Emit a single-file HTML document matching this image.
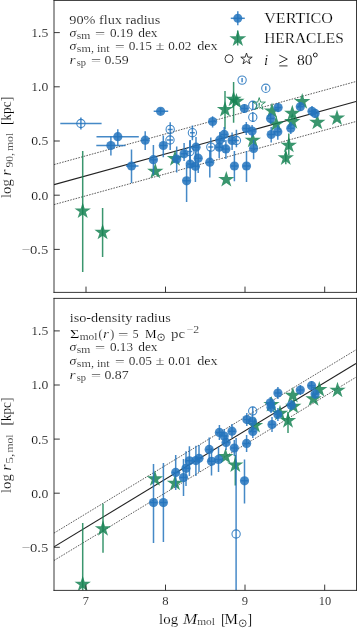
<!DOCTYPE html>
<html><head><meta charset="utf-8"><style>
html,body{margin:0;padding:0;background:#fff;width:357px;height:628px;overflow:hidden}
svg{display:block;will-change:transform}
text{font-family:"Liberation Serif",serif;fill:#000;stroke:#fff;stroke-width:0.18px;paint-order:fill}
.tk{font-size:13.2px}
.an{font-size:12.6px}
.lg{font-size:13.4px}
.it{font-style:italic}
.sb{font-size:9.2px}
</style></head><body>
<svg width="357" height="628" viewBox="0 0 357 628"><defs><clipPath id="c1"><rect x="54" y="0.4" width="302.1" height="291.9"/></clipPath><clipPath id="c2"><rect x="54" y="298.4" width="302.1" height="291.9"/></clipPath></defs>
<g clip-path="url(#c1)">
<line x1="54" y1="184.60" x2="356" y2="101.50" stroke="#222" stroke-width="1.1"/>
<line x1="54" y1="164.60" x2="356" y2="81.50" stroke="#333" stroke-width="0.8" stroke-dasharray="1.6 1.2"/>
<line x1="54" y1="204.60" x2="356" y2="121.50" stroke="#333" stroke-width="0.8" stroke-dasharray="1.6 1.2"/>
</g>
<g clip-path="url(#c1)" stroke="#188455" stroke-opacity="0.85" stroke-width="1.50"><line x1="82.70" y1="151.00" x2="82.70" y2="272.00"/><line x1="102.60" y1="208.00" x2="102.60" y2="257.00"/><line x1="233.60" y1="82.00" x2="233.60" y2="122.70"/><line x1="225.00" y1="91.00" x2="225.00" y2="129.40"/><line x1="288.80" y1="133.40" x2="288.80" y2="155.10"/><line x1="285.80" y1="151.60" x2="285.80" y2="164.20"/></g>
<g clip-path="url(#c1)" fill="#188455" fill-opacity="0.85"><path d="M82.70,202.50 L80.77,208.44 L74.52,208.44 L79.58,212.12 L77.65,218.06 L82.70,214.38 L87.75,218.06 L85.82,212.12 L90.88,208.44 L84.63,208.44 Z"/><path d="M102.60,223.80 L100.67,229.74 L94.42,229.74 L99.48,233.42 L97.55,239.36 L102.60,235.68 L107.65,239.36 L105.72,233.42 L110.78,229.74 L104.53,229.74 Z"/><path d="M155.30,162.80 L153.37,168.74 L147.12,168.74 L152.18,172.42 L150.25,178.36 L155.30,174.68 L160.35,178.36 L158.42,172.42 L163.48,168.74 L157.23,168.74 Z"/><path d="M175.00,150.10 L173.07,156.04 L166.82,156.04 L171.88,159.72 L169.95,165.66 L175.00,161.98 L180.05,165.66 L178.12,159.72 L183.18,156.04 L176.93,156.04 Z"/><path d="M233.60,90.70 L231.67,96.64 L225.42,96.64 L230.48,100.32 L228.55,106.26 L233.60,102.58 L238.65,106.26 L236.72,100.32 L241.78,96.64 L235.53,96.64 Z"/><path d="M236.40,92.90 L234.47,98.84 L228.22,98.84 L233.28,102.52 L231.35,108.46 L236.40,104.78 L241.45,108.46 L239.52,102.52 L244.58,98.84 L238.33,98.84 Z"/><path d="M225.00,101.00 L223.07,106.94 L216.82,106.94 L221.88,110.62 L219.95,116.56 L225.00,112.88 L230.05,116.56 L228.12,110.62 L233.18,106.94 L226.93,106.94 Z"/><path d="M252.80,131.70 L250.87,137.64 L244.62,137.64 L249.68,141.32 L247.75,147.26 L252.80,143.58 L257.85,147.26 L255.92,141.32 L260.98,137.64 L254.73,137.64 Z"/><path d="M226.30,171.00 L224.37,176.94 L218.12,176.94 L223.18,180.62 L221.25,186.56 L226.30,182.88 L231.35,186.56 L229.42,180.62 L234.48,176.94 L228.23,176.94 Z"/><path d="M272.00,102.50 L270.07,108.44 L263.82,108.44 L268.88,112.12 L266.95,118.06 L272.00,114.38 L277.05,118.06 L275.12,112.12 L280.18,108.44 L273.93,108.44 Z"/><path d="M276.20,115.50 L274.27,121.44 L268.02,121.44 L273.08,125.12 L271.15,131.06 L276.20,127.38 L281.25,131.06 L279.32,125.12 L284.38,121.44 L278.13,121.44 Z"/><path d="M292.30,104.80 L290.37,110.74 L284.12,110.74 L289.18,114.42 L287.25,120.36 L292.30,116.68 L297.35,120.36 L295.42,114.42 L300.48,110.74 L294.23,110.74 Z"/><path d="M292.30,113.10 L290.37,119.04 L284.12,119.04 L289.18,122.72 L287.25,128.66 L292.30,124.98 L297.35,128.66 L295.42,122.72 L300.48,119.04 L294.23,119.04 Z"/><path d="M302.20,93.10 L300.27,99.04 L294.02,99.04 L299.08,102.72 L297.15,108.66 L302.20,104.98 L307.25,108.66 L305.32,102.72 L310.38,99.04 L304.13,99.04 Z"/><path d="M317.30,113.80 L315.37,119.74 L309.12,119.74 L314.18,123.42 L312.25,129.36 L317.30,125.68 L322.35,129.36 L320.42,123.42 L325.48,119.74 L319.23,119.74 Z"/><path d="M337.00,109.50 L335.07,115.44 L328.82,115.44 L333.88,119.12 L331.95,125.06 L337.00,121.38 L342.05,125.06 L340.12,119.12 L345.18,115.44 L338.93,115.44 Z"/><path d="M288.80,136.80 L286.87,142.74 L280.62,142.74 L285.68,146.42 L283.75,152.36 L288.80,148.68 L293.85,152.36 L291.92,146.42 L296.98,142.74 L290.73,142.74 Z"/><path d="M285.80,149.40 L283.87,155.34 L277.62,155.34 L282.68,159.02 L280.75,164.96 L285.80,161.28 L290.85,164.96 L288.92,159.02 L293.98,155.34 L287.73,155.34 Z"/></g>
<g clip-path="url(#c1)" stroke="#2474bd" stroke-opacity="0.85" stroke-width="1.50"><line x1="96.50" y1="136.70" x2="138.80" y2="136.70"/><line x1="117.80" y1="129.20" x2="117.80" y2="145.50"/><line x1="96.30" y1="145.50" x2="125.50" y2="145.50"/><line x1="110.90" y1="136.50" x2="110.90" y2="155.50"/><line x1="126.00" y1="166.00" x2="138.50" y2="166.00"/><line x1="131.50" y1="149.50" x2="131.50" y2="183.00"/><line x1="153.70" y1="111.30" x2="168.20" y2="111.30"/><line x1="160.60" y1="108.00" x2="160.60" y2="114.50"/><line x1="142.00" y1="140.20" x2="148.50" y2="140.20"/><line x1="145.20" y1="131.20" x2="145.20" y2="150.00"/><line x1="150.00" y1="159.70" x2="156.80" y2="159.70"/><line x1="153.40" y1="145.00" x2="153.40" y2="174.70"/><line x1="159.90" y1="145.50" x2="166.70" y2="145.50"/><line x1="163.30" y1="135.50" x2="163.30" y2="157.20"/><line x1="209.20" y1="121.50" x2="216.00" y2="121.50"/><line x1="212.60" y1="116.30" x2="212.60" y2="127.50"/><line x1="173.30" y1="159.00" x2="180.10" y2="159.00"/><line x1="176.70" y1="146.50" x2="176.70" y2="172.50"/><line x1="180.70" y1="153.80" x2="187.50" y2="153.80"/><line x1="184.10" y1="143.00" x2="184.10" y2="161.00"/><line x1="186.80" y1="164.00" x2="193.60" y2="164.00"/><line x1="190.20" y1="140.00" x2="190.20" y2="178.60"/><line x1="192.60" y1="147.20" x2="199.40" y2="147.20"/><line x1="196.00" y1="137.00" x2="196.00" y2="157.00"/><line x1="194.80" y1="158.20" x2="201.60" y2="158.20"/><line x1="198.20" y1="145.00" x2="198.20" y2="173.00"/><line x1="192.00" y1="166.30" x2="198.80" y2="166.30"/><line x1="195.40" y1="152.00" x2="195.40" y2="182.00"/><line x1="183.20" y1="180.80" x2="190.00" y2="180.80"/><line x1="186.60" y1="165.00" x2="186.60" y2="202.00"/><line x1="206.40" y1="162.20" x2="213.20" y2="162.20"/><line x1="209.80" y1="150.00" x2="209.80" y2="177.50"/><line x1="220.80" y1="134.40" x2="227.60" y2="134.40"/><line x1="224.20" y1="127.00" x2="224.20" y2="142.00"/><line x1="216.40" y1="139.90" x2="223.20" y2="139.90"/><line x1="219.80" y1="132.00" x2="219.80" y2="148.00"/><line x1="228.70" y1="140.50" x2="235.50" y2="140.50"/><line x1="232.10" y1="132.60" x2="232.10" y2="150.00"/><line x1="215.80" y1="147.20" x2="222.60" y2="147.20"/><line x1="219.20" y1="138.00" x2="219.20" y2="157.90"/><line x1="222.50" y1="148.90" x2="229.30" y2="148.90"/><line x1="225.90" y1="140.00" x2="225.90" y2="159.00"/><line x1="242.90" y1="128.50" x2="249.70" y2="128.50"/><line x1="246.30" y1="122.00" x2="246.30" y2="135.00"/><line x1="248.70" y1="131.10" x2="255.50" y2="131.10"/><line x1="252.10" y1="125.00" x2="252.10" y2="137.00"/><line x1="241.00" y1="108.50" x2="247.80" y2="108.50"/><line x1="244.40" y1="104.00" x2="244.40" y2="113.00"/><line x1="231.00" y1="166.00" x2="237.80" y2="166.00"/><line x1="234.40" y1="151.00" x2="234.40" y2="181.20"/><line x1="243.10" y1="166.00" x2="249.90" y2="166.00"/><line x1="246.50" y1="151.00" x2="246.50" y2="182.00"/><line x1="250.20" y1="148.40" x2="257.00" y2="148.40"/><line x1="253.60" y1="140.00" x2="253.60" y2="159.30"/><line x1="274.70" y1="107.60" x2="281.50" y2="107.60"/><line x1="278.10" y1="103.00" x2="278.10" y2="112.00"/><line x1="267.20" y1="118.40" x2="274.00" y2="118.40"/><line x1="270.60" y1="113.00" x2="270.60" y2="124.00"/><line x1="287.40" y1="128.20" x2="294.20" y2="128.20"/><line x1="290.80" y1="122.00" x2="290.80" y2="134.00"/><line x1="274.40" y1="131.80" x2="281.20" y2="131.80"/><line x1="277.80" y1="125.00" x2="277.80" y2="139.70"/><line x1="267.80" y1="134.50" x2="274.60" y2="134.50"/><line x1="271.20" y1="127.00" x2="271.20" y2="142.50"/><line x1="296.90" y1="106.70" x2="303.70" y2="106.70"/><line x1="300.30" y1="102.00" x2="300.30" y2="111.00"/><line x1="308.60" y1="111.30" x2="315.40" y2="111.30"/><line x1="312.00" y1="106.00" x2="312.00" y2="116.00"/><line x1="311.70" y1="113.40" x2="318.50" y2="113.40"/><line x1="315.10" y1="109.00" x2="315.10" y2="118.00"/><line x1="60.30" y1="123.50" x2="101.60" y2="123.50"/><line x1="80.90" y1="117.50" x2="80.90" y2="129.60"/><line x1="167.70" y1="129.40" x2="172.70" y2="129.40"/><line x1="170.20" y1="122.30" x2="170.20" y2="150.00"/><line x1="167.00" y1="140.00" x2="173.00" y2="140.00"/><line x1="190.00" y1="132.70" x2="194.80" y2="132.70"/><line x1="192.40" y1="125.50" x2="192.40" y2="140.20"/><line x1="208.30" y1="147.10" x2="213.30" y2="147.10"/><line x1="210.80" y1="137.40" x2="210.80" y2="160.00"/><line x1="242.10" y1="78.00" x2="242.10" y2="82.30"/><line x1="265.80" y1="86.20" x2="265.80" y2="90.40"/><line x1="252.80" y1="101.00" x2="252.80" y2="109.50"/><line x1="252.80" y1="112.00" x2="252.80" y2="122.00"/><line x1="233.90" y1="140.50" x2="238.90" y2="140.50"/><line x1="236.40" y1="129.80" x2="236.40" y2="147.20"/><line x1="187.30" y1="151.60" x2="192.30" y2="151.60"/><line x1="189.80" y1="140.50" x2="189.80" y2="162.00"/></g>
<g clip-path="url(#c1)" fill="#2474bd" fill-opacity="0.85"><circle cx="117.80" cy="136.70" r="4.60"/><circle cx="110.90" cy="145.50" r="4.60"/><circle cx="131.50" cy="166.00" r="4.60"/><circle cx="160.60" cy="111.30" r="4.60"/><circle cx="145.20" cy="140.20" r="4.60"/><circle cx="153.40" cy="159.70" r="4.60"/><circle cx="163.30" cy="145.50" r="4.60"/><circle cx="212.60" cy="121.50" r="4.60"/><circle cx="176.70" cy="159.00" r="4.60"/><circle cx="184.10" cy="153.80" r="4.60"/><circle cx="190.20" cy="164.00" r="4.60"/><circle cx="196.00" cy="147.20" r="4.60"/><circle cx="198.20" cy="158.20" r="4.60"/><circle cx="195.40" cy="166.30" r="4.60"/><circle cx="186.60" cy="180.80" r="4.60"/><circle cx="209.80" cy="162.20" r="4.60"/><circle cx="224.20" cy="134.40" r="4.60"/><circle cx="219.80" cy="139.90" r="4.60"/><circle cx="232.10" cy="140.50" r="4.60"/><circle cx="219.20" cy="147.20" r="4.60"/><circle cx="225.90" cy="148.90" r="4.60"/><circle cx="246.30" cy="128.50" r="4.60"/><circle cx="252.10" cy="131.10" r="4.60"/><circle cx="244.40" cy="108.50" r="4.60"/><circle cx="234.40" cy="166.00" r="4.60"/><circle cx="246.50" cy="166.00" r="4.60"/><circle cx="253.60" cy="148.40" r="4.60"/><circle cx="278.10" cy="107.60" r="4.60"/><circle cx="270.60" cy="118.40" r="4.60"/><circle cx="290.80" cy="128.20" r="4.60"/><circle cx="277.80" cy="131.80" r="4.60"/><circle cx="271.20" cy="134.50" r="4.60"/><circle cx="300.30" cy="106.70" r="4.60"/><circle cx="312.00" cy="111.30" r="4.60"/><circle cx="315.10" cy="113.40" r="4.60"/></g>
<g clip-path="url(#c1)" fill="none" stroke="#2474bd" stroke-opacity="0.85" stroke-width="1.1"><circle cx="80.90" cy="123.50" r="4.15"/><circle cx="170.20" cy="129.40" r="4.15"/><circle cx="170.00" cy="140.00" r="4.15"/><circle cx="192.40" cy="132.70" r="4.15"/><circle cx="210.80" cy="147.10" r="4.15"/><circle cx="242.10" cy="80.10" r="4.15"/><circle cx="265.80" cy="88.30" r="4.15"/><circle cx="252.80" cy="105.30" r="4.15"/><circle cx="252.80" cy="117.20" r="4.15"/><circle cx="236.40" cy="140.50" r="4.15"/><circle cx="189.80" cy="151.60" r="4.15"/></g>
<g clip-path="url(#c1)" fill="none" stroke="#188455" stroke-opacity="0.85" stroke-width="1"><path d="M259.20,97.60 L257.74,102.09 L253.02,102.09 L256.84,104.87 L255.38,109.36 L259.20,106.58 L263.02,109.36 L261.56,104.87 L265.38,102.09 L260.66,102.09 Z"/><line x1="259.20" y1="102.70" x2="259.20" y2="105.70" stroke-width="1.4"/></g>
<line x1="86.00" y1="286.60" x2="86.00" y2="292.40" stroke="#222" stroke-width="0.9"/>
<line x1="165.50" y1="286.60" x2="165.50" y2="292.40" stroke="#222" stroke-width="0.9"/>
<line x1="245.00" y1="286.60" x2="245.00" y2="292.40" stroke="#222" stroke-width="0.9"/>
<line x1="324.70" y1="286.60" x2="324.70" y2="292.40" stroke="#222" stroke-width="0.9"/>
<line x1="54" y1="32.60" x2="59.8" y2="32.60" stroke="#222" stroke-width="0.9"/>
<line x1="54" y1="86.80" x2="59.8" y2="86.80" stroke="#222" stroke-width="0.9"/>
<line x1="54" y1="141.00" x2="59.8" y2="141.00" stroke="#222" stroke-width="0.9"/>
<line x1="54" y1="195.20" x2="59.8" y2="195.20" stroke="#222" stroke-width="0.9"/>
<line x1="54" y1="249.40" x2="59.8" y2="249.40" stroke="#222" stroke-width="0.9"/>
<path d="M54,0.00 V292.85 M53.55,0.45 H357 M53.55,292.40 H357 M356.5,0.00 V292.85" fill="none" stroke="#222" stroke-width="0.9"/>
<g clip-path="url(#c2)">
<line x1="54" y1="546.80" x2="356" y2="363.50" stroke="#222" stroke-width="1.1"/>
<line x1="54" y1="533.10" x2="356" y2="349.80" stroke="#333" stroke-width="0.8" stroke-dasharray="1.6 1.2"/>
<line x1="54" y1="560.50" x2="356" y2="377.20" stroke="#333" stroke-width="0.8" stroke-dasharray="1.6 1.2"/>
</g>
<g clip-path="url(#c2)" stroke="#188455" stroke-opacity="0.85" stroke-width="1.50"><line x1="82.70" y1="523.00" x2="82.70" y2="591.00"/><line x1="103.00" y1="503.80" x2="103.00" y2="552.80"/><line x1="235.30" y1="455.00" x2="235.30" y2="485.50"/><line x1="288.00" y1="412.00" x2="288.00" y2="433.00"/></g>
<g clip-path="url(#c2)" fill="#188455" fill-opacity="0.85"><path d="M82.70,575.70 L80.77,581.64 L74.52,581.64 L79.58,585.32 L77.65,591.26 L82.70,587.58 L87.75,591.26 L85.82,585.32 L90.88,581.64 L84.63,581.64 Z"/><path d="M103.00,520.20 L101.07,526.14 L94.82,526.14 L99.88,529.82 L97.95,535.76 L103.00,532.08 L108.05,535.76 L106.12,529.82 L111.18,526.14 L104.93,526.14 Z"/><path d="M154.90,470.30 L152.97,476.24 L146.72,476.24 L151.78,479.92 L149.85,485.86 L154.90,482.18 L159.95,485.86 L158.02,479.92 L163.08,476.24 L156.83,476.24 Z"/><path d="M175.00,474.70 L173.07,480.64 L166.82,480.64 L171.88,484.32 L169.95,490.26 L175.00,486.58 L180.05,490.26 L178.12,484.32 L183.18,480.64 L176.93,480.64 Z"/><path d="M225.50,448.00 L223.57,453.94 L217.32,453.94 L222.38,457.62 L220.45,463.56 L225.50,459.88 L230.55,463.56 L228.62,457.62 L233.68,453.94 L227.43,453.94 Z"/><path d="M235.30,456.50 L233.37,462.44 L227.12,462.44 L232.18,466.12 L230.25,472.06 L235.30,468.38 L240.35,472.06 L238.42,466.12 L243.48,462.44 L237.23,462.44 Z"/><path d="M271.50,396.00 L269.57,401.94 L263.32,401.94 L268.38,405.62 L266.45,411.56 L271.50,407.88 L276.55,411.56 L274.62,405.62 L279.68,401.94 L273.43,401.94 Z"/><path d="M288.00,412.10 L286.07,418.04 L279.82,418.04 L284.88,421.72 L282.95,427.66 L288.00,423.98 L293.05,427.66 L291.12,421.72 L296.18,418.04 L289.93,418.04 Z"/><path d="M292.80,386.90 L290.87,392.84 L284.62,392.84 L289.68,396.52 L287.75,402.46 L292.80,398.78 L297.85,402.46 L295.92,396.52 L300.98,392.84 L294.73,392.84 Z"/><path d="M293.30,397.80 L291.37,403.74 L285.12,403.74 L290.18,407.42 L288.25,413.36 L293.30,409.68 L298.35,413.36 L296.42,407.42 L301.48,403.74 L295.23,403.74 Z"/><path d="M280.00,404.80 L278.07,410.74 L271.82,410.74 L276.88,414.42 L274.95,420.36 L280.00,416.68 L285.05,420.36 L283.12,414.42 L288.18,410.74 L281.93,410.74 Z"/><path d="M313.50,390.30 L311.57,396.24 L305.32,396.24 L310.38,399.92 L308.45,405.86 L313.50,402.18 L318.55,405.86 L316.62,399.92 L321.68,396.24 L315.43,396.24 Z"/><path d="M319.30,381.00 L317.37,386.94 L311.12,386.94 L316.18,390.62 L314.25,396.56 L319.30,392.88 L324.35,396.56 L322.42,390.62 L327.48,386.94 L321.23,386.94 Z"/><path d="M337.50,381.70 L335.57,387.64 L329.32,387.64 L334.38,391.32 L332.45,397.26 L337.50,393.58 L342.55,397.26 L340.62,391.32 L345.68,387.64 L339.43,387.64 Z"/><path d="M255.00,417.00 L253.07,422.94 L246.82,422.94 L251.88,426.62 L249.95,432.56 L255.00,428.88 L260.05,432.56 L258.12,426.62 L263.18,422.94 L256.93,422.94 Z"/></g>
<g clip-path="url(#c2)" stroke="#2474bd" stroke-opacity="0.85" stroke-width="1.50"><line x1="150.10" y1="502.60" x2="156.90" y2="502.60"/><line x1="153.50" y1="463.90" x2="153.50" y2="543.00"/><line x1="160.00" y1="502.60" x2="166.80" y2="502.60"/><line x1="163.40" y1="463.00" x2="163.40" y2="542.00"/><line x1="172.30" y1="472.40" x2="179.10" y2="472.40"/><line x1="175.70" y1="455.00" x2="175.70" y2="490.00"/><line x1="180.10" y1="477.60" x2="186.90" y2="477.60"/><line x1="183.50" y1="459.00" x2="183.50" y2="496.00"/><line x1="182.60" y1="468.30" x2="189.40" y2="468.30"/><line x1="186.00" y1="451.30" x2="186.00" y2="486.00"/><line x1="186.00" y1="460.80" x2="192.80" y2="460.80"/><line x1="189.40" y1="446.30" x2="189.40" y2="476.00"/><line x1="192.50" y1="460.60" x2="199.30" y2="460.60"/><line x1="195.90" y1="445.70" x2="195.90" y2="476.00"/><line x1="195.60" y1="458.30" x2="202.40" y2="458.30"/><line x1="199.00" y1="445.00" x2="199.00" y2="472.00"/><line x1="205.80" y1="449.40" x2="212.60" y2="449.40"/><line x1="209.20" y1="437.60" x2="209.20" y2="462.00"/><line x1="208.10" y1="461.30" x2="214.90" y2="461.30"/><line x1="211.50" y1="448.00" x2="211.50" y2="475.40"/><line x1="215.10" y1="459.40" x2="221.90" y2="459.40"/><line x1="218.50" y1="447.00" x2="218.50" y2="472.00"/><line x1="216.00" y1="432.40" x2="222.80" y2="432.40"/><line x1="219.40" y1="425.00" x2="219.40" y2="440.00"/><line x1="220.80" y1="436.00" x2="227.60" y2="436.00"/><line x1="224.20" y1="429.00" x2="224.20" y2="443.00"/><line x1="222.70" y1="442.40" x2="229.50" y2="442.40"/><line x1="226.10" y1="435.00" x2="226.10" y2="450.00"/><line x1="228.60" y1="431.20" x2="235.40" y2="431.20"/><line x1="232.00" y1="424.00" x2="232.00" y2="438.00"/><line x1="230.90" y1="448.00" x2="237.70" y2="448.00"/><line x1="234.30" y1="440.00" x2="234.30" y2="456.00"/><line x1="243.20" y1="443.40" x2="250.00" y2="443.40"/><line x1="246.60" y1="435.00" x2="246.60" y2="452.00"/><line x1="243.40" y1="419.60" x2="250.20" y2="419.60"/><line x1="246.80" y1="413.00" x2="246.80" y2="426.00"/><line x1="249.00" y1="421.20" x2="255.80" y2="421.20"/><line x1="252.40" y1="415.00" x2="252.40" y2="428.00"/><line x1="249.40" y1="431.50" x2="256.20" y2="431.50"/><line x1="252.80" y1="425.00" x2="252.80" y2="438.00"/><line x1="241.10" y1="480.80" x2="247.90" y2="480.80"/><line x1="244.50" y1="459.60" x2="244.50" y2="503.40"/><line x1="266.90" y1="402.80" x2="273.70" y2="402.80"/><line x1="270.30" y1="397.00" x2="270.30" y2="409.00"/><line x1="267.60" y1="407.30" x2="274.40" y2="407.30"/><line x1="271.00" y1="401.00" x2="271.00" y2="413.00"/><line x1="274.50" y1="393.00" x2="281.30" y2="393.00"/><line x1="277.90" y1="387.00" x2="277.90" y2="399.00"/><line x1="274.50" y1="414.50" x2="281.30" y2="414.50"/><line x1="277.90" y1="408.00" x2="277.90" y2="421.00"/><line x1="268.60" y1="424.50" x2="275.40" y2="424.50"/><line x1="272.00" y1="417.00" x2="272.00" y2="432.00"/><line x1="287.90" y1="405.20" x2="294.70" y2="405.20"/><line x1="291.30" y1="400.00" x2="291.30" y2="410.00"/><line x1="296.90" y1="390.00" x2="303.70" y2="390.00"/><line x1="300.30" y1="385.00" x2="300.30" y2="395.00"/><line x1="308.20" y1="385.70" x2="315.00" y2="385.70"/><line x1="311.60" y1="381.00" x2="311.60" y2="390.00"/><line x1="311.70" y1="393.90" x2="318.50" y2="393.90"/><line x1="315.10" y1="389.00" x2="315.10" y2="399.00"/><line x1="252.70" y1="406.80" x2="252.70" y2="415.30"/><line x1="236.10" y1="438.00" x2="236.10" y2="591.00"/></g>
<g clip-path="url(#c2)" fill="#2474bd" fill-opacity="0.85"><circle cx="153.50" cy="502.60" r="4.60"/><circle cx="163.40" cy="502.60" r="4.60"/><circle cx="175.70" cy="472.40" r="4.60"/><circle cx="183.50" cy="477.60" r="4.60"/><circle cx="186.00" cy="468.30" r="4.60"/><circle cx="189.40" cy="460.80" r="4.60"/><circle cx="195.90" cy="460.60" r="4.60"/><circle cx="199.00" cy="458.30" r="4.60"/><circle cx="209.20" cy="449.40" r="4.60"/><circle cx="211.50" cy="461.30" r="4.60"/><circle cx="218.50" cy="459.40" r="4.60"/><circle cx="219.40" cy="432.40" r="4.60"/><circle cx="224.20" cy="436.00" r="4.60"/><circle cx="226.10" cy="442.40" r="4.60"/><circle cx="232.00" cy="431.20" r="4.60"/><circle cx="234.30" cy="448.00" r="4.60"/><circle cx="246.60" cy="443.40" r="4.60"/><circle cx="246.80" cy="419.60" r="4.60"/><circle cx="252.40" cy="421.20" r="4.60"/><circle cx="252.80" cy="431.50" r="4.60"/><circle cx="244.50" cy="480.80" r="4.60"/><circle cx="270.30" cy="402.80" r="4.60"/><circle cx="271.00" cy="407.30" r="4.60"/><circle cx="277.90" cy="393.00" r="4.60"/><circle cx="277.90" cy="414.50" r="4.60"/><circle cx="272.00" cy="424.50" r="4.60"/><circle cx="291.30" cy="405.20" r="4.60"/><circle cx="300.30" cy="390.00" r="4.60"/><circle cx="311.60" cy="385.70" r="4.60"/><circle cx="315.10" cy="393.90" r="4.60"/></g>
<g clip-path="url(#c2)" fill="none" stroke="#2474bd" stroke-opacity="0.85" stroke-width="1.1"><circle cx="252.70" cy="411.00" r="4.15"/><circle cx="236.10" cy="534.00" r="4.15"/></g>
<g clip-path="url(#c2)" fill="none" stroke="#188455" stroke-opacity="0.85" stroke-width="1"></g>
<line x1="86.00" y1="584.60" x2="86.00" y2="590.40" stroke="#222" stroke-width="0.9"/>
<line x1="165.50" y1="584.60" x2="165.50" y2="590.40" stroke="#222" stroke-width="0.9"/>
<line x1="245.00" y1="584.60" x2="245.00" y2="590.40" stroke="#222" stroke-width="0.9"/>
<line x1="324.70" y1="584.60" x2="324.70" y2="590.40" stroke="#222" stroke-width="0.9"/>
<line x1="54" y1="330.90" x2="59.8" y2="330.90" stroke="#222" stroke-width="0.9"/>
<line x1="54" y1="385.00" x2="59.8" y2="385.00" stroke="#222" stroke-width="0.9"/>
<line x1="54" y1="439.10" x2="59.8" y2="439.10" stroke="#222" stroke-width="0.9"/>
<line x1="54" y1="493.20" x2="59.8" y2="493.20" stroke="#222" stroke-width="0.9"/>
<line x1="54" y1="547.30" x2="59.8" y2="547.30" stroke="#222" stroke-width="0.9"/>
<path d="M54,297.95 V590.85 M53.55,298.40 H357 M53.55,590.40 H357 M356.5,297.95 V590.85" fill="none" stroke="#222" stroke-width="0.9"/>
<text x="69.30" y="24.30" font-size="12.80" textLength="91.00" lengthAdjust="spacingAndGlyphs">90% flux radius</text>
<text x="69.50" y="36.90" font-size="12.80" font-style="italic" textLength="6.80" lengthAdjust="spacingAndGlyphs">σ</text>
<text x="76.80" y="38.70" font-size="10.00" textLength="13.60" lengthAdjust="spacingAndGlyphs">sm</text>
<text x="94.90" y="38.10" font-size="12.80" textLength="10.10" lengthAdjust="spacingAndGlyphs">=</text>
<text x="110.00" y="36.90" font-size="12.80" textLength="23.00" lengthAdjust="spacingAndGlyphs">0.19</text>
<text x="138.20" y="36.90" font-size="12.80" textLength="19.40" lengthAdjust="spacingAndGlyphs">dex</text>
<text x="69.50" y="50.10" font-size="12.80" font-style="italic" textLength="6.80" lengthAdjust="spacingAndGlyphs">σ</text>
<text x="76.80" y="52.10" font-size="10.00" textLength="32.90" lengthAdjust="spacingAndGlyphs">sm, int</text>
<text x="115.00" y="51.30" font-size="12.80" textLength="9.80" lengthAdjust="spacingAndGlyphs">=</text>
<text x="128.70" y="50.10" font-size="12.80" textLength="23.30" lengthAdjust="spacingAndGlyphs">0.15</text>
<text x="155.50" y="50.10" font-size="12.80" textLength="9.00" lengthAdjust="spacingAndGlyphs">±</text>
<text x="168.30" y="50.10" font-size="12.80" textLength="23.00" lengthAdjust="spacingAndGlyphs">0.02</text>
<text x="197.20" y="50.10" font-size="12.80" textLength="20.50" lengthAdjust="spacingAndGlyphs">dex</text>
<text x="69.60" y="64.10" font-size="12.80" font-style="italic" textLength="6.00" lengthAdjust="spacingAndGlyphs">r</text>
<text x="76.70" y="65.90" font-size="10.00" textLength="9.30" lengthAdjust="spacingAndGlyphs">sp</text>
<text x="91.00" y="65.30" font-size="12.80" textLength="10.00" lengthAdjust="spacingAndGlyphs">=</text>
<text x="104.40" y="64.10" font-size="12.80" textLength="24.20" lengthAdjust="spacingAndGlyphs">0.59</text>
<text x="69.70" y="321.60" font-size="12.80" textLength="101.00" lengthAdjust="spacingAndGlyphs">iso-density radius</text>
<text x="69.90" y="337.90" font-size="12.80" textLength="9.40" lengthAdjust="spacingAndGlyphs">Σ</text>
<text x="79.70" y="339.90" font-size="10.00" textLength="17.70" lengthAdjust="spacingAndGlyphs">mol</text>
<text x="98.40" y="337.90" font-size="12.80" textLength="4.00" lengthAdjust="spacingAndGlyphs">(</text>
<text x="103.00" y="337.90" font-size="12.80" font-style="italic" textLength="6.00" lengthAdjust="spacingAndGlyphs">r</text>
<text x="110.20" y="337.90" font-size="12.80" textLength="4.00" lengthAdjust="spacingAndGlyphs">)</text>
<text x="118.00" y="339.10" font-size="12.80" textLength="10.40" lengthAdjust="spacingAndGlyphs">=</text>
<text x="132.70" y="337.90" font-size="12.80" textLength="5.80" lengthAdjust="spacingAndGlyphs">5</text>
<text x="145.00" y="337.90" font-size="12.80" textLength="11.60" lengthAdjust="spacingAndGlyphs">M</text>
<circle cx="161.1" cy="337.3" r="3.3" fill="none" stroke="#111" stroke-width="0.7"/><circle cx="161.1" cy="337.3" r="0.75" fill="#111"/>
<text x="171.10" y="337.90" font-size="12.80" textLength="14.10" lengthAdjust="spacingAndGlyphs">pc</text>
<text x="186.70" y="332.70" font-size="10.00" textLength="12.50" lengthAdjust="spacingAndGlyphs">−2</text>
<text x="69.50" y="351.20" font-size="12.80" font-style="italic" textLength="6.80" lengthAdjust="spacingAndGlyphs">σ</text>
<text x="76.80" y="353.00" font-size="10.00" textLength="13.60" lengthAdjust="spacingAndGlyphs">sm</text>
<text x="94.90" y="352.40" font-size="12.80" textLength="10.10" lengthAdjust="spacingAndGlyphs">=</text>
<text x="110.00" y="351.20" font-size="12.80" textLength="23.00" lengthAdjust="spacingAndGlyphs">0.13</text>
<text x="138.20" y="351.20" font-size="12.80" textLength="19.40" lengthAdjust="spacingAndGlyphs">dex</text>
<text x="69.50" y="365.20" font-size="12.80" font-style="italic" textLength="6.80" lengthAdjust="spacingAndGlyphs">σ</text>
<text x="76.80" y="367.20" font-size="10.00" textLength="32.90" lengthAdjust="spacingAndGlyphs">sm, int</text>
<text x="115.00" y="366.40" font-size="12.80" textLength="9.80" lengthAdjust="spacingAndGlyphs">=</text>
<text x="128.70" y="365.20" font-size="12.80" textLength="23.30" lengthAdjust="spacingAndGlyphs">0.05</text>
<text x="155.50" y="365.20" font-size="12.80" textLength="9.00" lengthAdjust="spacingAndGlyphs">±</text>
<text x="168.30" y="365.20" font-size="12.80" textLength="23.00" lengthAdjust="spacingAndGlyphs">0.01</text>
<text x="197.20" y="365.20" font-size="12.80" textLength="20.50" lengthAdjust="spacingAndGlyphs">dex</text>
<text x="69.60" y="379.20" font-size="12.80" font-style="italic" textLength="6.00" lengthAdjust="spacingAndGlyphs">r</text>
<text x="76.70" y="381.00" font-size="10.00" textLength="9.30" lengthAdjust="spacingAndGlyphs">sp</text>
<text x="91.00" y="380.40" font-size="12.80" textLength="10.00" lengthAdjust="spacingAndGlyphs">=</text>
<text x="104.40" y="379.20" font-size="12.80" textLength="24.20" lengthAdjust="spacingAndGlyphs">0.87</text>
<text x="264.20" y="23.40" font-size="15.00" textLength="68.80" lengthAdjust="spacingAndGlyphs">VERTICO</text>
<text x="264.20" y="43.00" font-size="15.00" textLength="79.60" lengthAdjust="spacingAndGlyphs">HERACLES</text>
<text x="264.00" y="64.60" font-size="15.00" font-style="italic">i</text>
<path d="M279.3,55.1 L287.3,59.1 L279.3,63.1 M279.3,65.9 L287.5,65.9" fill="none" stroke="#111" stroke-width="0.85"/>
<text x="297.00" y="64.60" font-size="15.60">80</text>
<circle cx="315.3" cy="55.0" r="1.95" fill="none" stroke="#111" stroke-width="0.9"/>
<text x="31.20" y="37.00" font-size="13.20" textLength="17.10" lengthAdjust="spacingAndGlyphs">1.5</text>
<text x="31.20" y="91.20" font-size="13.20" textLength="17.10" lengthAdjust="spacingAndGlyphs">1.0</text>
<text x="31.20" y="145.40" font-size="13.20" textLength="17.10" lengthAdjust="spacingAndGlyphs">0.5</text>
<text x="31.20" y="199.60" font-size="13.20" textLength="17.10" lengthAdjust="spacingAndGlyphs">0.0</text>
<text x="21.80" y="253.80" font-size="13.20" textLength="26.50" lengthAdjust="spacingAndGlyphs">−0.5</text>
<text x="31.20" y="335.30" font-size="13.20" textLength="17.10" lengthAdjust="spacingAndGlyphs">1.5</text>
<text x="31.20" y="389.40" font-size="13.20" textLength="17.10" lengthAdjust="spacingAndGlyphs">1.0</text>
<text x="31.20" y="443.50" font-size="13.20" textLength="17.10" lengthAdjust="spacingAndGlyphs">0.5</text>
<text x="31.20" y="497.60" font-size="13.20" textLength="17.10" lengthAdjust="spacingAndGlyphs">0.0</text>
<text x="21.80" y="551.70" font-size="13.20" textLength="26.50" lengthAdjust="spacingAndGlyphs">−0.5</text>
<text x="82.80" y="604.60" font-size="13.20" textLength="6.20" lengthAdjust="spacingAndGlyphs">7</text>
<text x="162.35" y="604.60" font-size="13.20" textLength="6.30" lengthAdjust="spacingAndGlyphs">8</text>
<text x="241.85" y="604.60" font-size="13.20" textLength="6.30" lengthAdjust="spacingAndGlyphs">9</text>
<text x="318.80" y="604.60" font-size="13.20" textLength="12.40" lengthAdjust="spacingAndGlyphs">10</text>
<text x="159.10" y="623.70" font-size="13.80" textLength="19.00" lengthAdjust="spacingAndGlyphs">log</text>
<text x="183.00" y="623.70" font-size="13.80" font-style="italic" textLength="14.30" lengthAdjust="spacingAndGlyphs">M</text>
<text x="197.20" y="625.30" font-size="9.60" textLength="17.80" lengthAdjust="spacingAndGlyphs">mol</text>
<text x="220.90" y="623.70" font-size="13.80">[</text>
<text x="224.60" y="623.70" font-size="13.80" textLength="13.40" lengthAdjust="spacingAndGlyphs">M</text>
<circle cx="242.7" cy="623.30" r="3.4" fill="none" stroke="#111" stroke-width="0.7"/><circle cx="242.7" cy="623.30" r="0.75" fill="#111"/>
<text x="247.60" y="623.70" font-size="13.80">]</text>
<g transform="translate(11.00,198.00) rotate(-90)"><text x="0.00" y="0.00" font-size="13.80" textLength="18.70" lengthAdjust="spacingAndGlyphs">log</text><text x="22.20" y="0.00" font-size="13.80" font-style="italic" textLength="6.20" lengthAdjust="spacingAndGlyphs">r</text><text x="30.40" y="2.00" font-size="9.60" textLength="14.50" lengthAdjust="spacingAndGlyphs">90,</text><text x="47.00" y="2.00" font-size="9.60" textLength="18.20" lengthAdjust="spacingAndGlyphs">mol</text><text x="72.90" y="0.00" font-size="13.80" textLength="28.20" lengthAdjust="spacingAndGlyphs">[kpc]</text></g>
<g transform="translate(11.00,493.00) rotate(-90)"><text x="0.00" y="0.00" font-size="13.80" textLength="18.70" lengthAdjust="spacingAndGlyphs">log</text><text x="22.20" y="0.00" font-size="13.80" font-style="italic" textLength="6.20" lengthAdjust="spacingAndGlyphs">r</text><text x="29.40" y="2.00" font-size="9.60" textLength="9.80" lengthAdjust="spacingAndGlyphs">5,</text><text x="40.40" y="2.00" font-size="9.60" textLength="18.10" lengthAdjust="spacingAndGlyphs">mol</text><text x="67.40" y="0.00" font-size="13.80" textLength="28.00" lengthAdjust="spacingAndGlyphs">[kpc]</text></g><g stroke="#2474bd" stroke-opacity="0.85" stroke-width="1.50"><line x1="230.8" y1="18.3" x2="244.8" y2="18.3"/><line x1="237.8" y1="11.2" x2="237.8" y2="25.3"/></g>
<circle cx="237.8" cy="18.3" r="4.50" fill="#2474bd" fill-opacity="0.85"/>
<line x1="237.7" y1="30.5" x2="237.7" y2="45.5" stroke="#188455" stroke-opacity="0.85" stroke-width="1.50"/>
<path d="M237.85,30.00 L235.85,36.15 L229.39,36.15 L234.62,39.95 L232.62,46.10 L237.85,42.30 L243.08,46.10 L241.08,39.95 L246.31,36.15 L239.85,36.15 Z" fill="#188455" fill-opacity="0.85"/>
<circle cx="229.0" cy="58.7" r="4.00" fill="none" stroke="#222" stroke-width="0.9"/>
<path d="M246.50,53.00 L245.15,57.15 L240.79,57.15 L244.32,59.71 L242.97,63.85 L246.50,61.29 L250.03,63.85 L248.68,59.71 L252.21,57.15 L247.85,57.15 Z" fill="none" stroke="#222" stroke-width="0.9"/></svg>
</body></html>
